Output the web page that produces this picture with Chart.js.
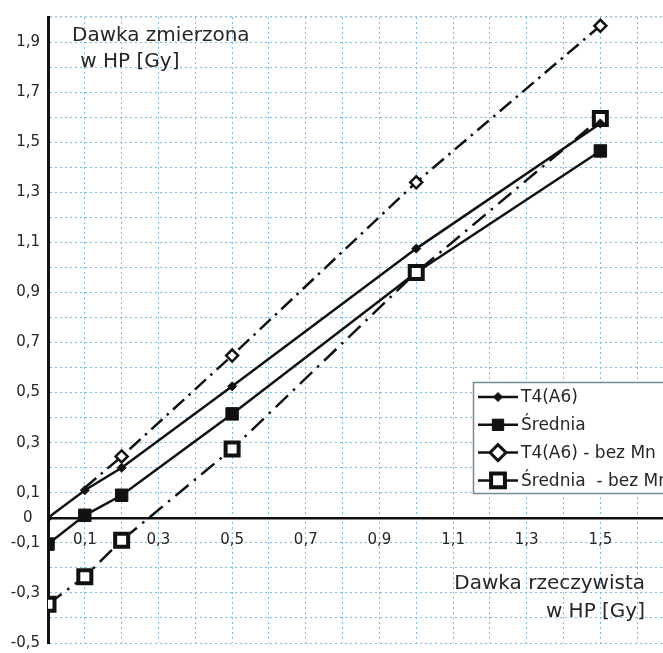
<!DOCTYPE html>
<html>
<head>
<meta charset="utf-8">
<script src="https://cdn.jsdelivr.net/npm/chart.js@4.4.1/dist/chart.umd.min.js"></script>
<style>
  html, body { margin: 0; padding: 0; background: #fff; overflow: hidden; }
  #wrap { position: relative; width: 700px; height: 660px; }
</style>
</head>
<body>
<div id="wrap"><canvas id="c" width="700" height="660"></canvas></div>
<script>
// Real dose delivered in HP [Gy] (x) and the measured dose for each series (y)
const doses        = [0, 0.1, 0.2, 0.5, 1.0, 1.5];
const t4           = [0, 0.11, 0.2, 0.525, 1.075, 1.575];
const srednia      = [-0.105, 0.01, 0.09, 0.415, 0.98, 1.465];
const t4BezMn      = [null, 0.12, 0.245, 0.648, 1.34, 1.965];
const sredniaBezMn = [-0.345, -0.235, -0.09, 0.275, 0.98, 1.595];

const seriesNames = ['T4(A6)', 'Średnia', 'T4(A6) - bez Mn', 'Średnia  - bez Mn'];
const yTitleLines = ['Dawka zmierzona', ' w HP [Gy]'];
const xTitleLines = ['Dawka rzeczywista', 'w HP [Gy]'];

const FONT = '"DejaVu Sans", sans-serif';
const INK = '#111';
const TEXT = '#262626';

const pts = (ys) => doses.map((d, i) => ({ x: d, y: ys[i] }));

// Odd tenths get a label, plus the origin on the vertical axis
function tickLabel(axis) {
  return (value) => {
    const k = Math.round(value * 10);
    if (k === 0) return axis === 'y' ? '0\u2002' : '';
    return Math.abs(k) % 2 === 1 ? value.toFixed(1).replace('.', ',') : '';
  };
}

const gridColor = '#7fbddd';
const isTop = (c) => c.tick && Math.round(c.tick.value * 10) === 20;

// Axis titles written inside the plot
const titlesPlugin = {
  id: 'titles',
  afterDatasetsDraw(chart) {
    const ctx = chart.ctx;
    ctx.save();
    ctx.fillStyle = TEXT;
    ctx.font = '20px ' + FONT;
    ctx.textBaseline = 'middle';
    ctx.textAlign = 'left';
    ctx.fillText(yTitleLines[0], 72, 36);
    ctx.fillText(yTitleLines[1], 74, 62);
    ctx.textAlign = 'right';
    ctx.fillText(xTitleLines[0], 645, 584);
    ctx.fillText(xTitleLines[1], 645, 612);
    ctx.restore();
  }
};

// Boxed legend with line-through-marker samples
const legendBoxPlugin = {
  id: 'legendBox',
  afterDatasetsDraw(chart, args, opts) {
    const ctx = chart.ctx;
    const h = Chart.helpers;
    ctx.save();
    ctx.fillStyle = '#fff';
    ctx.fillRect(opts.x, opts.y, opts.w, opts.h);
    ctx.strokeStyle = '#6f8c9b';
    ctx.lineWidth = 1.5;
    ctx.strokeRect(opts.x + 0.5, opts.y + 0.5, opts.w, opts.h);
    opts.entries.forEach((e, i) => {
      const ds = chart.data.datasets[e.dataset];
      const cy = opts.firstRow + i * opts.rowGap;
      ctx.setLineDash([]);
      ctx.strokeStyle = INK;
      ctx.lineWidth = 2.5;
      ctx.beginPath();
      ctx.moveTo(opts.lineX0, cy);
      ctx.lineTo(opts.lineX1, cy);
      ctx.stroke();
      ctx.fillStyle = ds.pointBackgroundColor;
      ctx.strokeStyle = INK;
      ctx.lineWidth = e.borderWidth;
      h.drawPoint(ctx, { pointStyle: ds.pointStyle, radius: e.radius, rotation: 0, borderWidth: e.borderWidth },
        (opts.lineX0 + opts.lineX1) / 2, cy);
      ctx.fillStyle = TEXT;
      ctx.font = '17px ' + FONT;
      ctx.textAlign = 'left';
      ctx.textBaseline = 'middle';
      ctx.fillText(ds.label, opts.textX, cy + 1);
    });
    ctx.restore();
  }
};

new Chart(document.getElementById('c'), {
  type: 'line',
  data: {
    datasets: [
      {
        label: seriesNames[0], data: pts(t4), order: 0,
        borderColor: INK, borderWidth: 2.5,
        pointStyle: 'rectRot', pointRadius: 4.5, pointBorderWidth: 1,
        pointBackgroundColor: INK, pointBorderColor: INK
      },
      {
        label: seriesNames[1], data: pts(srednia), order: 2,
        borderColor: INK, borderWidth: 2.5,
        pointStyle: 'rect', pointRadius: 8.8, pointBorderWidth: 1,
        pointBackgroundColor: INK, pointBorderColor: INK
      },
      {
        label: seriesNames[2], data: pts(t4BezMn), order: 3,
        borderColor: INK, borderWidth: 2.5, borderDash: [15, 6, 2.5, 6],
        pointStyle: 'rectRot', pointRadius: [0, 0, 6, 6, 6, 6], pointBorderWidth: 2.5,
        pointBackgroundColor: '#fff', pointBorderColor: INK
      },
      {
        label: seriesNames[3], data: pts(sredniaBezMn), order: 1,
        borderColor: INK, borderWidth: 2.5, borderDash: [17, 7, 2.5, 7],
        pointStyle: 'rect', pointRadius: 9.2, pointBorderWidth: 4,
        pointBackgroundColor: '#fff', pointBorderColor: INK
      }
    ]
  },
  options: {
    responsive: false,
    animation: false,
    events: [],
    layout: { padding: { left: 0, top: 15, right: 26, bottom: 11 } },
    plugins: {
      legend: { display: false },
      tooltip: { enabled: false },
      legendBox: {
        x: 473, y: 382, w: 240, h: 111,
        lineX0: 478, lineX1: 518, textX: 521,
        firstRow: 397, rowGap: 27.8,
        entries: [
          { dataset: 0, radius: 4.5, borderWidth: 1 },
          { dataset: 1, radius: 8, borderWidth: 1 },
          { dataset: 2, radius: 8, borderWidth: 3 },
          { dataset: 3, radius: 9.8, borderWidth: 4 }
        ]
      }
    },
    scales: {
      x: {
        type: 'linear',
        position: { y: 0 },
        min: 0, max: 1.7,
        grid: { color: gridColor, lineWidth: 1, drawTicks: false },
        border: { display: true, color: INK, width: 2.5, dash: [2, 3] },
        ticks: {
          stepSize: 0.1, autoSkip: false, maxRotation: 0, padding: 13,
          color: TEXT, font: { family: FONT, size: 15 },
          callback: tickLabel('x')
        }
      },
      y: {
        type: 'linear',
        position: 'left',
        min: -0.5, max: 2.0,
        afterFit: (scale) => { scale.width = 48; },
        grid: {
          color: (c) => (isTop(c) ? '#9fc3d6' : gridColor),
          lineWidth: (c) => (isTop(c) ? 1.5 : 1),
          drawTicks: false
        },
        border: { display: true, color: INK, width: 3, dash: [2, 3] },
        ticks: {
          stepSize: 0.1, autoSkip: false, padding: 8,
          color: TEXT, font: { family: FONT, size: 15 },
          callback: tickLabel('y')
        }
      }
    }
  },
  plugins: [titlesPlugin, legendBoxPlugin]
});
</script>
</body>
</html>
